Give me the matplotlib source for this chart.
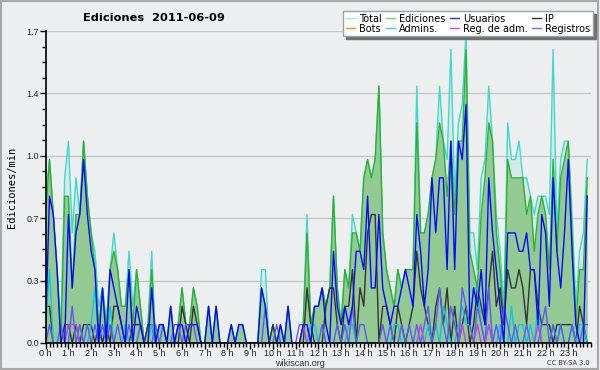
import numpy as np
import matplotlib
matplotlib.use("Agg")
from matplotlib import pyplot as plt
from matplotlib.patches import Rectangle
from matplotlib.ticker import FixedLocator, MultipleLocator

# Edits per 10-minute slot (tenths of edits/min), 6 slots per hour, 0h..23h
total = [
    8, 10, 7, 4, 1, 9,
    11, 6, 9, 7, 11, 8,
    6, 5, 2, 3, 1, 4,
    6, 4, 2, 2, 5, 2,
    4, 2, 0, 1, 5, 0,
    1, 1, 0, 2, 0, 1,
    3, 1, 1, 3, 2, 0,
    0, 2, 0, 2, 0, 0,
    0, 1, 0, 1, 1, 0,
    0, 0, 0, 4, 4, 0,
    1, 0, 1, 0, 2, 0,
    0, 0, 1, 7, 1, 2,
    2, 3, 2, 3, 8, 3,
    1, 4, 3, 7, 6, 5,
    9, 10, 9, 10, 14, 6,
    4, 3, 2, 4, 3, 4,
    4, 4, 14, 6, 6, 7,
    9, 10, 14, 11, 10, 16,
    8, 12, 13, 17, 6, 6,
    4, 9, 10, 14, 11, 7,
    5, 2, 12, 10, 10, 11,
    9, 9, 8, 7, 8, 8,
    8, 7, 16, 6, 10, 11,
    11, 7, 2, 5, 6, 10,
]
ediciones = [
    7, 10, 7, 4, 0, 8,
    8, 3, 7, 7, 11, 8,
    6, 4, 1, 3, 1, 4,
    5, 4, 2, 2, 4, 1,
    4, 2, 0, 1, 4, 0,
    1, 1, 0, 2, 0, 1,
    3, 1, 1, 3, 2, 0,
    0, 2, 0, 2, 0, 0,
    0, 1, 0, 1, 1, 0,
    0, 0, 0, 3, 2, 0,
    1, 0, 1, 0, 2, 0,
    0, 0, 1, 6, 1, 2,
    2, 3, 2, 3, 8, 3,
    1, 4, 3, 6, 6, 5,
    9, 10, 9, 10, 14, 6,
    4, 3, 2, 4, 3, 4,
    4, 4, 12, 6, 6, 7,
    9, 10, 12, 11, 8, 11,
    7, 11, 11, 16, 5, 4,
    3, 7, 9, 12, 11, 6,
    4, 1, 10, 9, 9, 9,
    9, 7, 8, 5, 7, 8,
    7, 4, 10, 5, 9, 10,
    11, 6, 1, 4, 4, 9,
]
usuarios = [
    1, 8, 7, 4, 0, 0,
    7, 3, 6, 7, 10, 7,
    5, 4, 0, 3, 0, 4,
    3, 2, 1, 0, 4, 0,
    2, 1, 0, 0, 3, 0,
    1, 1, 0, 2, 0, 1,
    1, 0, 1, 1, 1, 0,
    0, 2, 0, 2, 0, 0,
    0, 1, 0, 1, 1, 0,
    0, 0, 0, 3, 2, 0,
    0, 0, 1, 0, 2, 0,
    0, 0, 1, 1, 0, 2,
    2, 3, 1, 0, 5, 2,
    1, 2, 1, 2, 5, 5,
    4, 8, 3, 3, 7, 3,
    2, 1, 2, 2, 3, 4,
    3, 2, 7, 5, 2, 4,
    9, 6, 9, 9, 4, 11,
    4, 11, 10, 13, 1, 3,
    2, 4, 1, 9, 6, 4,
    2, 0, 6, 6, 6, 5,
    5, 6, 4, 4, 1, 7,
    6, 2, 9, 5, 3, 6,
    10, 5, 1, 0, 0, 8,
]
ip = [
    2, 2, 0, 0, 0, 1,
    1, 0, 1, 0, 1, 1,
    1, 0, 1, 0, 1, 0,
    2, 2, 1, 0, 0, 1,
    1, 1, 0, 1, 1, 0,
    0, 0, 0, 0, 0, 0,
    2, 1, 0, 2, 1, 0,
    0, 0, 0, 0, 0, 0,
    0, 0, 0, 0, 0, 0,
    0, 0, 0, 0, 0, 0,
    1, 0, 0, 0, 0, 0,
    0, 0, 0, 3, 1, 0,
    0, 0, 2, 3, 3, 1,
    0, 2, 2, 4, 0, 3,
    2, 6, 7, 7, 0, 2,
    2, 1, 0, 2, 1, 0,
    1, 2, 5, 3, 2, 1,
    0, 2, 3, 1, 3, 0,
    2, 0, 1, 2, 0, 1,
    3, 2, 1, 3, 5, 2,
    3, 1, 4, 3, 3, 4,
    3, 1, 4, 4, 2, 1,
    1, 1, 0, 1, 1, 1,
    1, 1, 0, 2, 1, 0,
]
bots = [0] * 144
admins = [
    1, 4, 0, 0, 0, 0,
    0, 0, 0, 1, 0, 0,
    1, 3, 0, 0, 0, 2,
    0, 0, 0, 1, 0, 0,
    0, 0, 0, 0, 1, 0,
    0, 0, 0, 0, 0, 0,
    0, 0, 0, 0, 0, 0,
    0, 0, 0, 0, 0, 0,
    0, 0, 0, 0, 0, 0,
    0, 0, 0, 0, 0, 0,
    0, 0, 0, 0, 0, 0,
    0, 0, 0, 0, 1, 1,
    0, 0, 0, 0, 0, 0,
    0, 0, 1, 1, 0, 0,
    0, 0, 0, 0, 0, 0,
    0, 0, 1, 1, 0, 0,
    0, 0, 0, 0, 0, 1,
    0, 1, 0, 2, 1, 0,
    0, 1, 2, 1, 1, 3,
    3, 1, 0, 1, 0, 0,
    1, 0, 0, 2, 0, 1,
    1, 0, 1, 0, 2, 0,
    0, 0, 1, 0, 1, 0,
    0, 1, 0, 1, 1, 0,
]
reg_adm = [
    0, 0, 0, 0, 0, 0,
    1, 1, 1, 0, 0, 0,
    0, 0, 0, 0, 0, 0,
    0, 0, 0, 0, 0, 0,
    0, 0, 0, 0, 0, 0,
    0, 0, 0, 0, 0, 0,
    0, 0, 0, 0, 0, 0,
    0, 0, 0, 0, 0, 0,
    0, 0, 0, 0, 0, 0,
    0, 0, 0, 0, 0, 0,
    0, 0, 0, 0, 0, 0,
    0, 0, 1, 0, 0, 0,
    0, 0, 0, 0, 0, 0,
    0, 0, 0, 0, 0, 0,
    0, 0, 0, 0, 0, 0,
    0, 0, 0, 0, 0, 0,
    0, 0, 0, 1, 0, 0,
    0, 0, 0, 0, 0, 0,
    0, 0, 1, 0, 0, 0,
    1, 0, 0, 1, 0, 0,
    0, 0, 0, 0, 0, 0,
    0, 0, 0, 0, 1, 0,
    0, 0, 0, 0, 0, 0,
    0, 0, 0, 0, 0, 0,
]
registros = [
    0, 1, 0, 0, 1, 0,
    0, 2, 0, 1, 0, 1,
    0, 1, 0, 1, 0, 1,
    0, 1, 0, 0, 1, 0,
    0, 1, 0, 0, 0, 1,
    0, 1, 0, 0, 1, 1,
    0, 1, 1, 1, 0, 0,
    0, 0, 0, 0, 0, 0,
    0, 0, 0, 0, 0, 0,
    0, 0, 0, 0, 2, 0,
    0, 1, 0, 0, 0, 0,
    0, 1, 1, 1, 0, 0,
    0, 1, 0, 0, 0, 1,
    0, 1, 0, 2, 0, 1,
    1, 0, 0, 0, 0, 1,
    0, 1, 0, 0, 1, 0,
    1, 0, 1, 0, 1, 2,
    0, 1, 3, 1, 0, 2,
    1, 0, 3, 2, 1, 0,
    2, 1, 0, 3, 0, 1,
    0, 2, 1, 0, 1, 0,
    0, 1, 0, 0, 0, 1,
    2, 0, 1, 0, 1, 0,
    0, 1, 0, 0, 1, 1,
]
hour_labels = [f"{h} h" for h in range(24)]

bg = "#EDEEF0"
fig = plt.figure(figsize=(6, 3.7), dpi=100, facecolor=bg)
ax = fig.add_axes([0.0762, 0.073, 0.9088, 0.843])
ax.set_facecolor(bg)

x = np.arange(144) / 6.0
def per_min(vals):
    return np.array(vals) / 10.0

# Total (light fill) and Ediciones (green fill) first, lines on top
ax.fill_between(x, per_min(total), color="#bfe8e0", alpha=0.5, lw=0, zorder=1)
ax.fill_between(x, per_min(ediciones), color="#93c993", lw=0, zorder=2)
ax.plot(x, per_min(bots), color="#ff9020", lw=1, zorder=2)
ax.plot(x, per_min(total), color="#40d8cc", lw=1, zorder=3)
ax.plot(x, per_min(ediciones), color="#30b030", lw=1, zorder=4)
ax.plot(x, per_min(ip), color="#333333", lw=1, zorder=5)
ax.plot(x, per_min(admins), color="#10c4dc", lw=1, zorder=5)
ax.plot(x, per_min(registros), color="#5a5af5", lw=1, zorder=6)
ax.plot(x, per_min(reg_adm), color="#c040e0", lw=1, zorder=6)
ax.plot(x, per_min(usuarios), color="#0808ff", lw=1, zorder=7)

ax.set_xlim(0, 24)
ax.set_ylim(0, 1.7)
for s in ("top", "right"):
    ax.spines[s].set_visible(False)
for s in ("left", "bottom"):
    ax.spines[s].set_color("black")
    ax.spines[s].set_linewidth(1.2)
    ax.spines[s].set_zorder(10)

yt = np.linspace(0, 1.7, 6)
ax.yaxis.set_major_locator(FixedLocator(yt))
ax.set_yticklabels([f"{v:.1f}" for v in yt], family="Liberation Sans")
ax.yaxis.set_minor_locator(MultipleLocator(0.085))
ax.set_xticks(range(24))
ax.set_xticklabels(hour_labels, family="Liberation Sans")
ax.xaxis.set_minor_locator(MultipleLocator(1 / 6))
ax.tick_params(axis="both", which="major", labelsize=6.5, length=4, width=1,
               pad=1, colors="black", labelcolor="#222222")
ax.tick_params(axis="x", which="major", pad=0.5)
ax.tick_params(axis="both", which="minor", length=3, width=1)
ax.grid(axis="y", color="#c8c8c8", lw=1, zorder=0)
ax.set_axisbelow(True)

ax.set_ylabel("Ediciones/min", family="DejaVu Sans Mono", fontsize=7.5, labelpad=7)
fig.text(0.257, 0.952, "Ediciones  2011-06-09", ha="center", va="center",
         fontsize=8.2, fontweight="bold")
fig.text(0.5, 0.017, "wikiscan.org", ha="center", va="center", fontsize=6.5,
         family="Liberation Sans", color="#333333")
fig.text(0.982, 0.019, "CC BY-SA 3.0", ha="right", va="center", fontsize=4.8,
         color="#333333")

handles = []
names = ["Total", "Bots", "Ediciones", "Admins.", "Usuarios", "Reg. de adm.",
         "IP", "Registros"]
cols = ["#a8e4e0", "#ff9020", "#80d080", "#40c8dc", "#3030e0", "#d050e8",
        "#333333", "#7070f0"]
for n, c in zip(names, cols):
    handles.append(plt.Line2D([], [], color=c, lw=1, label=n))
leg = fig.legend(handles=handles, ncol=4, loc="upper right",
                 bbox_to_anchor=(0.988, 0.97), fontsize=7, frameon=True,
                 fancybox=False, shadow={"color": "#707070", "alpha": 1},
                 handlelength=0.9, handletextpad=0.45, columnspacing=0.45,
                 labelspacing=0.0, borderpad=0.25, borderaxespad=0)
leg.get_frame().set_edgecolor("#a0a0a0")
leg.get_frame().set_facecolor("white")
leg.get_frame().set_alpha(1)

fig.patches.append(Rectangle((0.002, 0.003), 0.994, 0.994, transform=fig.transFigure,
                             fill=False, edgecolor="#a8a8a8", lw=1.5))

fig.savefig("out.png", dpi=100, facecolor=bg)
